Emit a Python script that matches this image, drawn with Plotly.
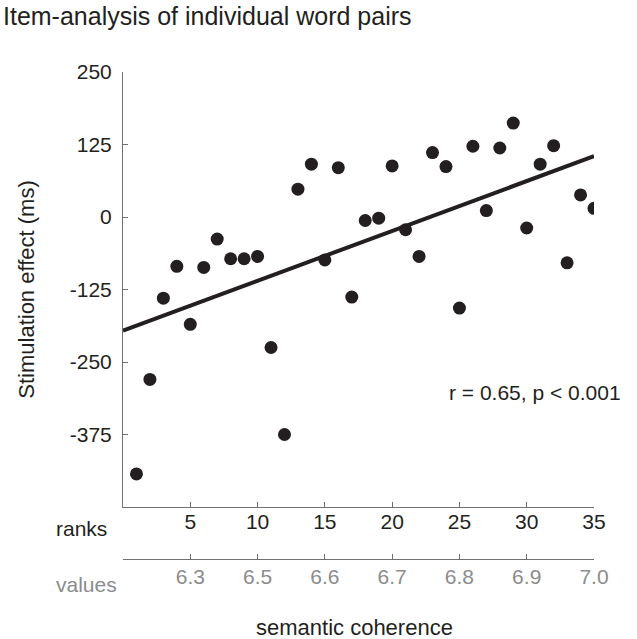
import numpy as np
import plotly.graph_objects as go

# ranks of semantic coherence (1..35) and stimulation effect per word pair (ms)
ranks = list(range(1, 36))
effect = [-443, -280, -140, -85, -185, -87, -38, -72, -72, -68,
          -225, -375, 48, 91, -74, 85, -138, -6, -2, 88,
          -22, -68, 111, 87, -157, 122, 11, 119, 162, -19,
          91, 123, -79, 38, 15]

y_ticks = [250, 125, 0, -125, -250, -375]
y_labels = ["250", "125", "0", "-125", "-250", "-375"]
rank_ticks = [5, 10, 15, 20, 25, 30, 35]
value_ticks = ["6.3", "6.5", "6.6", "6.7", "6.8", "6.9", "7.0"]

FONT = "Liberation Sans, Arial, Helvetica, sans-serif"
DARK = "#231f20"
AXIS = "#707070"
GREY = "#8c8c8c"

# plot-area geometry (px) used to place the free texts
L, R, T, B = 123, 43, 72, 80
PW, PH = 637 - L - R, 639 - T - B


def px(x):
    return (x - L) / PW


def py(y):
    return (639 - B - y) / PH


# regression line from the data
slope, icpt = np.polyfit(ranks, effect, 1)
fit_x = [0, 35]
fit_y = [icpt + slope * v for v in fit_x]

fig = go.Figure()
fig.add_trace(go.Scatter(x=fit_x, y=fit_y, mode="lines",
                         line=dict(color=DARK, width=4), showlegend=False))
fig.add_trace(go.Scatter(x=ranks, y=effect, mode="markers",
                         marker=dict(color=DARK, size=13), showlegend=False))
# empty trace so the second (values) axis is drawn
fig.add_trace(go.Scatter(x=[0, 35], y=[None, None], xaxis="x2", yaxis="y",
                         mode="markers", showlegend=False, hoverinfo="skip"))

axis_common = dict(ticks="inside", ticklen=5, tickcolor=AXIS, tickwidth=1,
                   showline=True, linecolor=AXIS, linewidth=1,
                   showgrid=False, zeroline=False)

fig.update_layout(
    width=637, height=639,
    margin=dict(l=L, r=R, t=T, b=B),
    paper_bgcolor="white", plot_bgcolor="white",
    font=dict(family=FONT, color=DARK, size=21),
    xaxis=dict(range=[0, 35], domain=[0, 1], anchor="y",
               tickvals=rank_ticks, ticklabelstandoff=-4,
               tickfont=dict(size=21, color=DARK), **axis_common),
    xaxis2=dict(range=[0, 35], anchor="free", position=0, overlaying="x",
                side="bottom", tickvals=rank_ticks, ticktext=value_ticks,
                ticklabelstandoff=-1,
                tickfont=dict(size=21, color=GREY), **axis_common),
    yaxis=dict(range=[-500, 250], domain=[(559 - 507) / PH, 1],
               tickvals=y_ticks, ticktext=y_labels, ticklabelstandoff=6,
               tickfont=dict(size=21, color=DARK),
               title=dict(text="Stimulation effect (ms)", standoff=29,
                          font=dict(size=22, color=DARK)),
               **axis_common),
)

fig.add_annotation(text="Item-analysis of individual word pairs",
                   xref="paper", yref="paper", x=px(1), y=py(16),
                   xanchor="left", yanchor="middle", showarrow=False,
                   font=dict(size=25, color=DARK))
fig.add_annotation(text="r = 0.65, p < 0.001", xref="paper", yref="paper",
                   x=px(623), y=py(392),
                   xanchor="right", yanchor="middle", showarrow=False,
                   font=dict(size=21, color=DARK))
fig.add_annotation(text="ranks", xref="paper", yref="paper",
                   x=px(54), y=py(528),
                   xanchor="left", yanchor="middle", showarrow=False,
                   font=dict(size=21, color=DARK))
fig.add_annotation(text="values", xref="paper", yref="paper",
                   x=px(54), y=py(584),
                   xanchor="left", yanchor="middle", showarrow=False,
                   font=dict(size=21, color=GREY))
fig.add_annotation(text="semantic coherence", xref="paper", yref="paper",
                   x=px(354), y=py(627),
                   xanchor="center", yanchor="middle", showarrow=False,
                   font=dict(size=22, color=DARK))

fig.write_html("out.html", config={"displayModeBar": False},
               post_script="document.body.style.margin='0px';")
